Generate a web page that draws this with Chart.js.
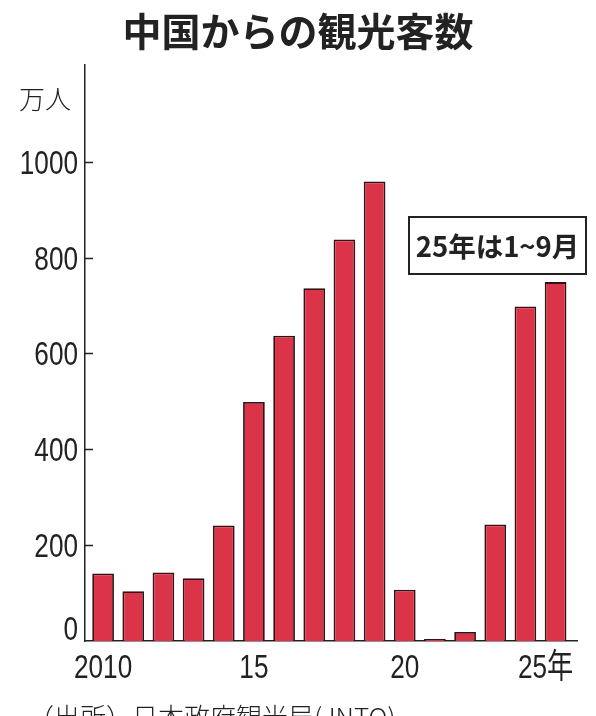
<!DOCTYPE html>
<html>
<head>
<meta charset="utf-8">
<script src="https://cdn.jsdelivr.net/npm/chart.js@4"></script>
<style>
  html, body { margin: 0; padding: 0; background: #fff; }
  #wrap { position: relative; width: 596px; height: 716px; overflow: hidden; }
  #myChart { position: absolute; left: 0; top: 0; }
  .txt { position: absolute; color: #222; font-family: "Noto Sans CJK JP", sans-serif; white-space: nowrap; }
  #title { left: 0; width: 596px; top: 1px; text-align: center; font-size: 39px; font-weight: 700; line-height: 56px; }
  #unit { left: 19px; top: 80px; font-size: 26px; line-height: 36px; font-weight: 300; }
  #note { left: 408px; top: 216px; width: 175px; height: 55px; border: 2px solid #222;
          font-size: 27.5px; font-weight: 700; line-height: 55px; text-align: center; }
  #source { left: 28px; top: 698px; font-size: 26px; line-height: 36px; font-weight: 300; }
</style>
</head>
<body>
<div id="wrap">
  <canvas id="myChart" width="596" height="716"></canvas>
  <div class="txt" id="title">中国からの観光客数</div>
  <div class="txt" id="unit">万人</div>
  <div class="txt" id="note">25年は1~9月</div>
  <div class="txt" id="source">（出所）日本政府観光局(JNTO)</div>
</div>
<script>
  // visitors from China, 10k people (2025 = Jan-Sep)
  const years = [2010, 2011, 2012, 2013, 2014, 2015, 2016, 2017, 2018, 2019, 2020, 2021, 2022, 2023, 2024, 2025];
  const visitors = [141, 104, 143, 131, 241, 499, 637, 736, 838, 959, 107, 4, 19, 243, 698, 749];
  const yTicks = [0, 200, 400, 600, 800, 1000];
  const xTickYears = [2010, 2015, 2020, 2025];
  const xTickLabels = ['2010', '15', '20', '25年'];

  const axisColor = '#222';
  // the original uses a narrow face; no condensed font here, so squeeze a normal one
  const numFont = '34px "Liberation Sans", "Noto Sans CJK JP", sans-serif';
  const squeeze = 0.77;

  function drawSqueezed(ctx, text, x, y, align) {
    ctx.save();
    ctx.translate(x, y);
    ctx.scale(squeeze, 1);
    ctx.textAlign = align;
    ctx.fillText(text, 0, 0);
    ctx.restore();
  }

  // tick labels + short inside tick marks, placed from the chart's scales
  const axisStyle = {
    id: 'axisStyle',
    afterDraw(chart) {
      const ctx = chart.ctx;
      const x = chart.scales.x;
      const y = chart.scales.y;
      const area = chart.chartArea;
      ctx.save();
      ctx.strokeStyle = axisColor;
      ctx.fillStyle = axisColor;
      ctx.lineWidth = 1.5;
      ctx.font = numFont;
      ctx.textBaseline = 'alphabetic';
      yTicks.forEach(v => {
        const py = y.getPixelForValue(v);
        if (v !== 0) {
          const ly = Math.round(py) + 0.5;
          ctx.beginPath();
          ctx.moveTo(area.left, ly);
          ctx.lineTo(area.left + 8, ly);
          ctx.stroke();
          drawSqueezed(ctx, String(v), area.left - 7, py + 12, 'right');
        } else {
          drawSqueezed(ctx, String(v), area.left - 7, py - 1, 'right');
        }
      });
      xTickYears.forEach((v, i) => {
        // last label ("25年") sits a little left of its bar in the original
        const shift = i === xTickYears.length - 1 ? -10 : 0;
        drawSqueezed(ctx, xTickLabels[i], x.getPixelForValue(v) + shift, area.bottom + 37, 'center');
      });
      ctx.restore();
    }
  };

  const config = {
    type: 'bar',
    data: {
      datasets: [{
        data: years.map((yr, i) => ({ x: yr, y: visitors[i] })),
        backgroundColor: 'rgb(219, 51, 71)',
        borderColor: 'rgb(50, 18, 22)',
        borderWidth: 1.8,
        borderSkipped: 'bottom',
        barPercentage: 0.72,
        categoryPercentage: 1
      }]
    },
    options: {
      responsive: false,
      animation: false,
      layout: { padding: { top: 65, right: 19, left: 0, bottom: 0 } },
      plugins: { legend: { display: false }, tooltip: { enabled: false } },
      scales: {
        x: {
          type: 'linear',
          offset: false,
          bounds: 'ticks',
          min: 2009.4,
          max: 2025.71,
          afterBuildTicks: s => { s.ticks = xTickYears.map(v => ({ value: v })); },
          afterFit: s => { s.height = 75; },
          ticks: { display: false },
          grid: { display: false, drawTicks: false, offset: false },
          border: { display: true, color: axisColor, width: 1.5 }
        },
        y: {
          min: 0,
          max: 1202,
          afterBuildTicks: s => { s.ticks = yTicks.map(v => ({ value: v })); },
          afterFit: s => { s.width = 85; },
          ticks: { display: false },
          grid: { display: false, drawTicks: false },
          border: { display: true, color: axisColor, width: 1.5 }
        }
      }
    },
    plugins: [axisStyle]
  };

  window.onload = function() {
    const ctx = document.getElementById('myChart').getContext('2d');
    new Chart(ctx, config);
  };
</script>
</body>
</html>
